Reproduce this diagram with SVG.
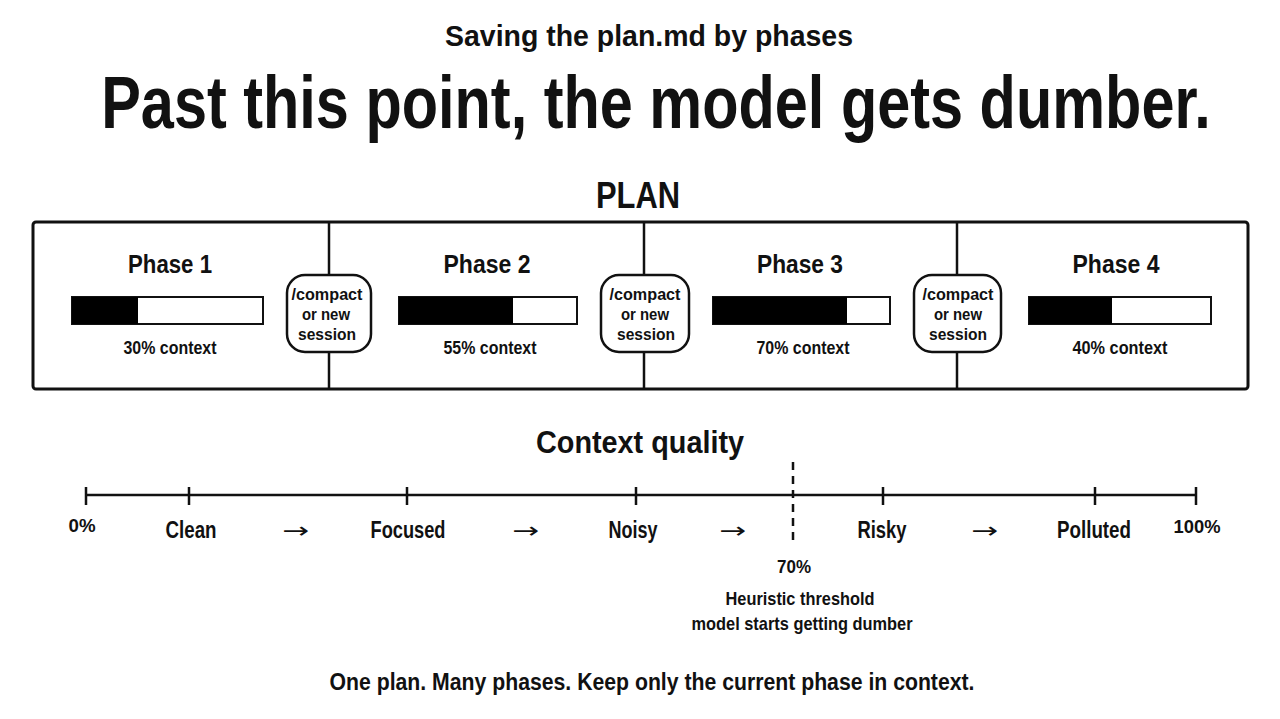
<svg xmlns="http://www.w3.org/2000/svg" width="1280" height="719" viewBox="0 0 1280 719">
<style>
text{font-family:"Liberation Sans",Arial,sans-serif;font-weight:bold;fill:#111;text-anchor:middle}
.frame{fill:#fff;stroke:#111;stroke-width:3}
.div{stroke:#111;stroke-width:2.5}
.pill{fill:#fff;stroke:#111;stroke-width:2.5}
.pt{font-size:16.5px}
.bar{fill:#fff;stroke:#111;stroke-width:2}
.fill{fill:#000}
.ph{font-size:26px}
.ctx{font-size:19px}
.ax{stroke:#111;stroke-width:2.5;fill:none}
.lbl{font-size:23px}
.arr{font-size:22px;font-family:"DejaVu Sans",sans-serif;font-weight:normal}
.th{font-size:19px}
</style>
<rect width="1280" height="719" fill="#fff"/>
<g id="header">
<text x="649" y="46" style="font-size:29px" textLength="408" lengthAdjust="spacingAndGlyphs">Saving the plan.md by phases</text>
<text transform="translate(656,128) scale(0.8,1)" x="0" y="0" style="font-size:74px" textLength="1387" lengthAdjust="spacingAndGlyphs">Past this point, the model gets dumber.</text>
<text x="638" y="208" style="font-size:36px" textLength="84" lengthAdjust="spacingAndGlyphs">PLAN</text>
</g>
<g id="plan">
<rect class="frame" x="33" y="222" width="1215" height="167" rx="3"/>
<line class="div" x1="329" y1="222" x2="329" y2="389"/>
<line class="div" x1="644" y1="222" x2="644" y2="389"/>
<line class="div" x1="957" y1="222" x2="957" y2="389"/>
</g>
<g id="phase1">
<text x="170" y="273" class="ph" textLength="84" lengthAdjust="spacingAndGlyphs">Phase 1</text>
<rect class="bar" x="72" y="297" width="191" height="27"/>
<rect class="fill" x="72" y="297" width="66" height="27"/>
<text x="170" y="354" class="ctx" textLength="93" lengthAdjust="spacingAndGlyphs">30% context</text>
</g>
<g id="phase2">
<text x="487" y="273" class="ph" textLength="87" lengthAdjust="spacingAndGlyphs">Phase 2</text>
<rect class="bar" x="399" y="297" width="178" height="27"/>
<rect class="fill" x="399" y="297" width="114" height="27"/>
<text x="490" y="354" class="ctx" textLength="93" lengthAdjust="spacingAndGlyphs">55% context</text>
</g>
<g id="phase3">
<text x="800" y="273" class="ph" textLength="86" lengthAdjust="spacingAndGlyphs">Phase 3</text>
<rect class="bar" x="713" y="297" width="177" height="27"/>
<rect class="fill" x="713" y="297" width="134" height="27"/>
<text x="803" y="354" class="ctx" textLength="93" lengthAdjust="spacingAndGlyphs">70% context</text>
</g>
<g id="phase4">
<text x="1116" y="273" class="ph" textLength="87" lengthAdjust="spacingAndGlyphs">Phase 4</text>
<rect class="bar" x="1029" y="297" width="182" height="27"/>
<rect class="fill" x="1029" y="297" width="83" height="27"/>
<text x="1120" y="354" class="ctx" textLength="95" lengthAdjust="spacingAndGlyphs">40% context</text>
</g>
<g id="transition1">
<rect class="pill" x="287" y="275" width="84" height="77" rx="18"/>
<text x="327" y="300" class="pt" textLength="71" lengthAdjust="spacingAndGlyphs">/compact</text>
<text x="326" y="320" class="pt" textLength="48" lengthAdjust="spacingAndGlyphs">or new</text>
<text x="327" y="340" class="pt" textLength="58" lengthAdjust="spacingAndGlyphs">session</text>
</g>
<g id="transition2">
<rect class="pill" x="601" y="275" width="88" height="77" rx="18"/>
<text x="645" y="300" class="pt" textLength="71" lengthAdjust="spacingAndGlyphs">/compact</text>
<text x="621" y="320" class="pt" style="text-anchor:start" textLength="48" lengthAdjust="spacingAndGlyphs">or new</text>
<text x="646" y="340" class="pt" textLength="58" lengthAdjust="spacingAndGlyphs">session</text>
</g>
<g id="transition3">
<rect class="pill" x="914" y="275" width="87" height="77" rx="18"/>
<text x="958" y="300" class="pt" textLength="71" lengthAdjust="spacingAndGlyphs">/compact</text>
<text x="934" y="320" class="pt" style="text-anchor:start" textLength="48" lengthAdjust="spacingAndGlyphs">or new</text>
<text x="958" y="340" class="pt" textLength="58" lengthAdjust="spacingAndGlyphs">session</text>
</g>
<g id="quality">
<text x="640" y="453" style="font-size:32px" textLength="208" lengthAdjust="spacingAndGlyphs">Context quality</text>
</g>
<g id="connectors">
<line class="ax" x1="86" y1="495" x2="1196" y2="495"/>
<path class="ax" d="M86 487V505M189 487V505M407 487V505M636 487V505M883 487V505M1095 487V505M1196 487V505"/>
<line x1="793" y1="462" x2="793" y2="546" stroke="#111" stroke-width="2.5" stroke-dasharray="8,6"/>
</g>
<g id="axis-labels">
<text x="82" y="532" style="font-size:19px" textLength="27" lengthAdjust="spacingAndGlyphs">0%</text>
<text x="191" y="538" class="lbl" textLength="51" lengthAdjust="spacingAndGlyphs">Clean</text>
<text x="296" y="538" class="arr" textLength="27" lengthAdjust="spacingAndGlyphs">→</text>
<text x="408" y="538" class="lbl" textLength="75" lengthAdjust="spacingAndGlyphs">Focused</text>
<text x="526" y="538" class="arr" textLength="27" lengthAdjust="spacingAndGlyphs">→</text>
<text x="633" y="538" class="lbl" textLength="49" lengthAdjust="spacingAndGlyphs">Noisy</text>
<text x="733" y="538" class="arr" textLength="27" lengthAdjust="spacingAndGlyphs">→</text>
<text x="882" y="538" class="lbl" textLength="49" lengthAdjust="spacingAndGlyphs">Risky</text>
<text x="985" y="538" class="arr" textLength="27" lengthAdjust="spacingAndGlyphs">→</text>
<text x="1094" y="538" class="lbl" textLength="74" lengthAdjust="spacingAndGlyphs">Polluted</text>
<text x="1197" y="533" style="font-size:19px" textLength="47" lengthAdjust="spacingAndGlyphs">100%</text>
</g>
<g id="threshold">
<text x="794" y="573" class="th" textLength="34" lengthAdjust="spacingAndGlyphs">70%</text>
<text x="800" y="605" class="th" textLength="149" lengthAdjust="spacingAndGlyphs">Heuristic threshold</text>
<text x="802" y="630" class="th" textLength="221" lengthAdjust="spacingAndGlyphs">model starts getting dumber</text>
</g>
<g id="footer">
<text x="652" y="690" style="font-size:23px" textLength="645" lengthAdjust="spacingAndGlyphs">One plan. Many phases. Keep only the current phase in context.</text>
</g>
</svg>
